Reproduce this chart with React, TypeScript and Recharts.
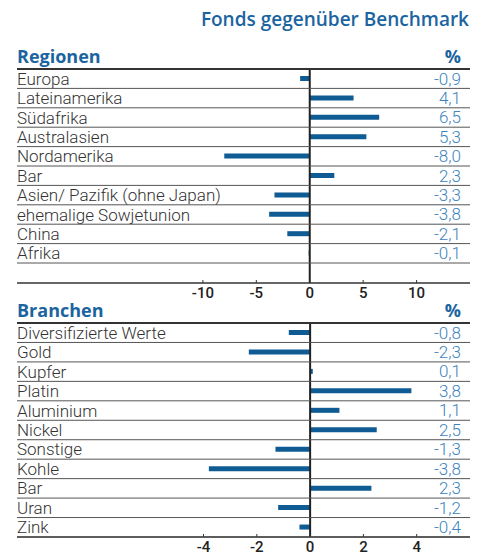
import React from "react";
import {
  BarChart,
  Bar,
  XAxis,
  YAxis,
  ReferenceLine,
  LabelList,
} from "recharts";

const regionNames = [
  "Europa",
  "Lateinamerika",
  "Südafrika",
  "Australasien",
  "Nordamerika",
  "Bar",
  "Asien/ Pazifik (ohne Japan)",
  "ehemalige Sowjetunion",
  "China",
  "Afrika",
];
const regionValues = [-0.9, 4.1, 6.5, 5.3, -8.0, 2.3, -3.3, -3.8, -2.1, -0.1];
const regionTicks = [-10, -5, 0, 5, 10];

const sectorNames = [
  "Diversifizierte Werte",
  "Gold",
  "Kupfer",
  "Platin",
  "Aluminium",
  "Nickel",
  "Sonstige",
  "Kohle",
  "Bar",
  "Uran",
  "Zink",
];
const sectorValues = [-0.8, -2.3, 0.1, 3.8, 1.1, 2.5, -1.3, -3.8, 2.3, -1.2, -0.4];
const sectorTicks = [-4, -2, 0, 2, 4];

const BLUE = "#1b64a0";
const BAR = "#0f5b93";
const VALUE = "#3d83bd";
const TEXT = "#333";
const FONT = "Roboto, sans-serif";
const HEAD = "'Open Sans', sans-serif";
const LEFT = 17;
const RIGHT = 470;

const fmt = (v: number) => v.toFixed(1).replace(".", ",");

function CategoryTick(props: any) {
  const { y, payload, index } = props;
  const half = payload?.offset || 9.7;
  return (
    <g>
      {index === 0 && (
        <line x1={LEFT} x2={RIGHT} y1={y - half} y2={y - half} stroke="#333" strokeWidth={2} />
      )}
      <line x1={LEFT} x2={RIGHT} y1={y + half} y2={y + half} stroke="#555" strokeWidth={1} />
      <text x={LEFT} y={y + 6} fontSize={17} fontWeight={300} fill={TEXT} fontFamily={FONT}>
        {payload.value}
      </text>
    </g>
  );
}

function NumberTick(props: any) {
  const { x, y, payload } = props;
  return (
    <g>
      <line x1={x} x2={x} y1={y - 3} y2={y} stroke="#333" strokeWidth={1} />
      <text
        x={x}
        y={y + 15}
        textAnchor="middle"
        fontSize={15}
        fontWeight={500}
        fill="#222"
        fontFamily={FONT}
      >
        {payload.value}
      </text>
    </g>
  );
}

function ValueLabel(props: any) {
  const { y, height, value } = props;
  return (
    <text
      x={461}
      y={y + height / 2 + 6}
      textAnchor="end"
      fontSize={17}
      fontWeight={300}
      fill={VALUE}
      fontFamily={FONT}
    >
      {fmt(value)}
    </text>
  );
}

function Panel({
  names,
  values,
  ticks,
  domain,
  height,
  top,
  axisH,
  padBottom,
}: {
  names: string[];
  values: number[];
  ticks: number[];
  domain: [number, number];
  height: number;
  top: number;
  axisH: number;
  padBottom: number;
}) {
  const data = names.map((name, i) => ({ name, value: values[i] }));
  return (
    <BarChart
      width={486}
      height={height}
      layout="vertical"
      data={data}
      margin={{ top, right: 486 - RIGHT, bottom: 0, left: LEFT - 1 }}
    >
      <XAxis
        type="number"
        domain={domain}
        ticks={ticks}
        allowDataOverflow
        height={axisH}
        tickSize={0}
        tickMargin={0}
        tickLine={false}
        axisLine={{ stroke: "#333", strokeWidth: 1.5 }}
        tick={<NumberTick />}
        interval={0}
      />
      <YAxis
        type="category"
        dataKey="name"
        width={1}
        axisLine={false}
        tickLine={false}
        tick={<CategoryTick />}
        interval={0}
        padding={{ top: 0, bottom: padBottom }}
      />
      <ReferenceLine x={0} stroke="#222" strokeWidth={2} />
      <Bar dataKey="value" fill={BAR} barSize={5} isAnimationActive={false}>
        <LabelList dataKey="value" content={<ValueLabel />} />
      </Bar>
    </BarChart>
  );
}

export default function App() {
  return (
    <div
      style={{
        position: "absolute",
        left: 0,
        top: 0,
        width: 486,
        height: 555,
        background: "#fff",
        overflow: "hidden",
      }}
    >
      <svg
        width={486}
        height={555}
        style={{ position: "absolute", left: 0, top: 0, pointerEvents: "none" }}
      >
        <text x={469} y={26} textAnchor="end" fontSize={19} fontWeight={600} fill={BLUE} fontFamily={HEAD}>
          Fonds gegenüber Benchmark
        </text>
        <text x={LEFT} y={63} fontSize={18} fontWeight={700} fill={BLUE} fontFamily={HEAD}>
          Regionen
        </text>
        <text x={461} y={63} textAnchor="end" fontSize={18} fontWeight={700} fill={BLUE} fontFamily={HEAD}>
          %
        </text>
        <text x={LEFT} y={317} fontSize={18} fontWeight={700} fill={BLUE} fontFamily={HEAD}>
          Branchen
        </text>
        <text x={461} y={317} textAnchor="end" fontSize={18} fontWeight={700} fill={BLUE} fontFamily={HEAD}>
          %
        </text>
      </svg>
      <div style={{ position: "absolute", left: 0, top: 0 }}>
        <Panel
          names={regionNames}
          values={regionValues}
          ticks={regionTicks}
          domain={[-27.4, 15]}
          height={305}
          top={69}
          axisH={22}
          padBottom={20}
        />
      </div>
      <div style={{ position: "absolute", left: 0, top: 300 }}>
        <Panel
          names={sectorNames}
          values={sectorValues}
          ticks={sectorTicks}
          domain={[-11, 6]}
          height={255}
          top={23}
          axisH={18}
          padBottom={0}
        />
      </div>
    </div>
  );
}
